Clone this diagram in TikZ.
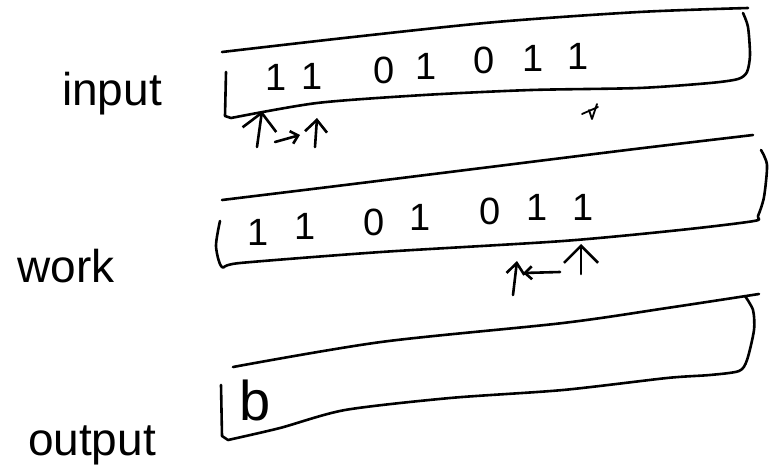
\documentclass[tikz,border=0pt]{standalone}
\usepackage{fontspec}
\setmainfont{Liberation Sans}
\usetikzlibrary{arrows.meta}
\tikzset{
  hand/.style={line width=2.6pt, line cap=round, line join=round},
  tape/.style={hand},
  digit/.style={inner sep=0pt, font=\fontsize{38}{38}\selectfont},
  label/.style={inner sep=0pt, anchor=base, font=\fontsize{46}{46}\selectfont},
  bigup/.style={hand, -{Straight Barb[length=17pt,width=34pt]}},
  midup/.style={hand, -{Straight Barb[length=12pt,width=22pt]}},
  smallarr/.style={hand, -{Straight Barb[length=7pt,width=13pt]}}
}
\begin{document}
\begin{tikzpicture}[x=1pt,y=-1pt]
\useasboundingbox (0,0) rectangle (769,464);

% ---------- labels ----------
\node[label] (linput) at (112,105) {input};
\node[label] (lwork) at (66,282) {work};
\node[label] (loutput) at (92,455) {output};

% ---------- input tape ----------
\draw[tape] plot[smooth,tension=0.5] coordinates {(222,52) (353,37) (496,22) (639,12) (748,8)};
\draw[tape] (226,72) -- (225,116) -- plot[smooth,tension=0.45] coordinates
  {(231,118) (317,103) (424,95) (531,90) (639,88) (710,83) (738,79) (747,72) (750,55) (748,27) (743,13)};
\node[digit] (i1) at (276,77) {1};
\node[digit] (i2) at (312,76) {1};
\node[digit] (i3) at (384,70) {0};
\node[digit] (i4) at (426,66) {1};
\node[digit] (i5) at (484,60) {0};
\node[digit] (i6) at (533,58) {1};
\node[digit] (i7) at (578,56) {1};

\coordinate (ia1s) at (257,147);
\coordinate (ia1e) at (262,111);
\coordinate (irs) at (275,142);
\coordinate (ire) at (300,135);
\coordinate (ia2s) at (315,147);
\coordinate (ia2e) at (317,118);
\draw[bigup] (ia1s) -- (ia1e);
\draw[smallarr] (irs) -- (ire);
\draw[midup] (ia2s) -- (ia2e);
% small mark
\coordinate (m1) at (582,114);
\coordinate (m2) at (598,107);
\coordinate (m3) at (589,110);
\coordinate (m4) at (592,119);
\coordinate (m5) at (597,104);
\draw[hand, line width=1.8pt] (m1) -- (m2);
\draw[hand, line width=1.8pt] (m3) -- (m4) -- (m5);

% ---------- work tape ----------
\draw[tape] plot[smooth,tension=0.5] coordinates {(222,200) (345,185) (490,167) (635,149) (753,135)};
\draw[tape] plot[smooth,tension=0.45] coordinates
  {(220,221) (216,246) (222,267) (240,263) (381,252) (563,241) (680,230) (754,221) (758,216) (764,197) (767,165) (761,150)};
\node[digit] (w1) at (258,232) {1};
\node[digit] (w2) at (305,226) {1};
\node[digit] (w3) at (374,222) {0};
\node[digit] (w4) at (420,217) {1};
\node[digit] (w5) at (490,211) {0};
\node[digit] (w6) at (537,207) {1};
\node[digit] (w7) at (583,207) {1};

\coordinate (wa1s) at (581,274);
\coordinate (wa1e) at (581,244);
\coordinate (wls) at (560,272);
\coordinate (wle) at (523,273);
\coordinate (wa2s) at (513,295);
\coordinate (wa2e) at (517,261);
\draw[bigup] (wa1s) -- (wa1e);
\draw[smallarr] (wls) -- (wle);
\draw[hand, -{Straight Barb[length=11pt,width=18pt]}] (wa2s) -- (wa2e);

% ---------- output tape ----------
\draw[tape] plot[smooth,tension=0.5] coordinates {(233,367) (381,342) (563,323) (667,308) (759,294)};
\draw[tape] (221,385) -- (222,436) -- plot[smooth,tension=0.45] coordinates
  {(228,440) (280,428) (345,410) (450,398) (563,390) (667,378) (710,375) (739,371) (747,360) (754,330) (753,310) (745,296)};
\node[inner sep=0pt, anchor=base, font=\fontsize{56}{56}\selectfont] (blank) at (255,420) {b};
\end{tikzpicture}
\end{document}
